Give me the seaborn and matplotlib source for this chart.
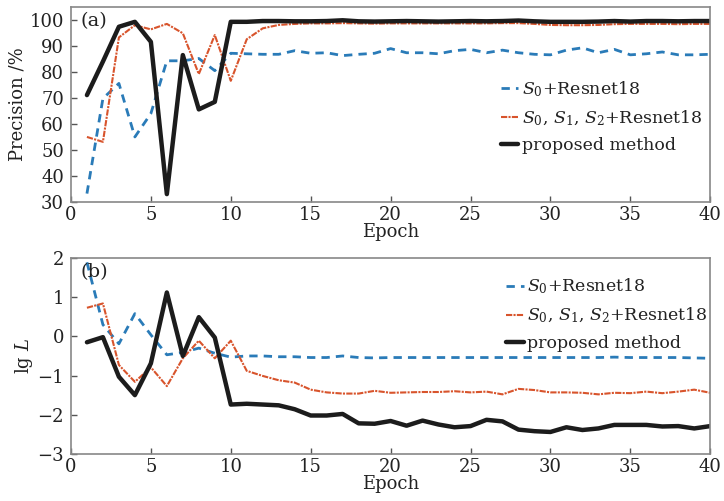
import numpy as np
import pandas as pd
import matplotlib
matplotlib.use("Agg")
import matplotlib.pyplot as plt
import seaborn as sns

epochs = list(range(1, 41))

prec_s0 = [33.2, 69.8, 75.6, 55.0, 64.0, 84.3, 84.3, 85.2, 80.5, 87.2,
           87.0, 86.8, 86.8, 88.2, 87.2, 87.4, 86.3, 86.8, 87.2, 89.0,
           87.4, 87.4, 87.0, 88.2, 88.7, 87.4, 88.4, 87.4, 86.8, 86.6,
           88.4, 89.3, 87.4, 88.7, 86.6, 87.0, 87.7, 86.6, 86.6, 86.8]
prec_s012 = [55.0, 53.1, 93.3, 98.0, 96.4, 98.5, 94.9, 79.2, 94.2, 76.6,
             92.6, 96.8, 98.1, 98.5, 98.7, 98.7, 98.8, 98.7, 98.6, 98.7,
             98.7, 98.7, 98.7, 98.7, 98.7, 98.7, 98.8, 98.8, 98.5, 98.1,
             98.0, 98.0, 98.1, 98.4, 98.5, 98.5, 98.5, 98.4, 98.5, 98.5]
prec_prop = [71.1, 84.0, 97.4, 99.3, 91.6, 33.0, 86.5, 65.6, 68.5, 99.3,
             99.3, 99.6, 99.6, 99.5, 99.5, 99.6, 99.9, 99.5, 99.4, 99.5,
             99.6, 99.5, 99.4, 99.5, 99.6, 99.5, 99.6, 99.8, 99.5, 99.3,
             99.3, 99.3, 99.4, 99.6, 99.4, 99.6, 99.6, 99.5, 99.6, 99.6]

loss_s0 = [1.89, 0.30, -0.19, 0.58, 0.04, -0.47, -0.41, -0.30, -0.43, -0.53,
           -0.50, -0.50, -0.52, -0.52, -0.54, -0.54, -0.50, -0.54, -0.55, -0.54,
           -0.54, -0.54, -0.54, -0.54, -0.54, -0.54, -0.54, -0.54, -0.54, -0.54,
           -0.54, -0.54, -0.54, -0.53, -0.54, -0.54, -0.54, -0.54, -0.55, -0.56]
loss_s012 = [0.73, 0.84, -0.73, -1.16, -0.79, -1.27, -0.56, -0.11, -0.56, -0.11,
             -0.88, -1.01, -1.12, -1.18, -1.36, -1.43, -1.46, -1.46, -1.39, -1.44,
             -1.43, -1.42, -1.42, -1.40, -1.43, -1.41, -1.48, -1.34, -1.37, -1.43,
             -1.43, -1.44, -1.48, -1.44, -1.45, -1.41, -1.45, -1.41, -1.36, -1.44]
loss_prop = [-0.15, -0.02, -1.03, -1.50, -0.69, 1.12, -0.50, 0.49, -0.03, -1.74,
             -1.72, -1.74, -1.76, -1.86, -2.02, -2.02, -1.98, -2.22, -2.23, -2.16,
             -2.28, -2.15, -2.25, -2.32, -2.29, -2.13, -2.17, -2.38, -2.42, -2.44,
             -2.32, -2.39, -2.35, -2.26, -2.26, -2.26, -2.30, -2.29, -2.35, -2.29]

labels = [r"$S_0$+Resnet18", r"$S_0$, $S_1$, $S_2$+Resnet18", "proposed method"]
colors = ["#2a7bb8", "#d8542c", "#1c1c1c"]
styles = [(0, (3.0, 2.2)), (0, (3, 0.6, 1, 0.6)), "-"]
widths = [2.0, 1.5, 3.2]

sns.set_theme(style="white")
plt.rcParams["font.family"] = ["DejaVu Serif"]
plt.rcParams["mathtext.fontset"] = "dejavuserif"

fig = plt.figure(figsize=(7.24, 5.01), dpi=100)
ax1 = fig.add_axes([0.098, 0.597, 0.883, 0.389])
ax2 = fig.add_axes([0.098, 0.094, 0.883, 0.391])

def draw(ax, series, ylim, yticks, ylabel, tag, legend_loc):
    for vals, lab, c, ls, lw in zip(series, labels, colors, styles, widths):
        sns.lineplot(x=epochs, y=vals, ax=ax, color=c, linestyle=ls, linewidth=lw, label=lab)
    ax.set_xlim(0, 40)
    ax.set_ylim(*ylim)
    ax.set_xticks(range(0, 41, 5))
    ax.set_yticks(yticks)
    ax.tick_params(direction="in", length=4, width=1, colors="#555555", labelsize=13,
                   labelcolor="#222222", bottom=True, left=True)
    ax.tick_params(axis="y", pad=5)
    ax.tick_params(axis="x", pad=3)
    for s in ax.spines.values():
        s.set_color("#888888")
        s.set_linewidth(1.2)
    ax.set_xlabel("Epoch", fontsize=13, labelpad=-1, color="#222222")
    ax.set_ylabel(ylabel, fontsize=13, labelpad=2, color="#222222")
    ax.text(0.015, 0.93, tag, transform=ax.transAxes, fontsize=14, va="center", ha="left", color="#222222")
    leg = ax.legend(loc="upper left", bbox_to_anchor=legend_loc, frameon=False, fontsize=12.5,
                    handlelength=1.0, handletextpad=0.2, labelspacing=0.55, borderaxespad=0)
    for t in leg.get_texts():
        t.set_color("#222222")

draw(ax1, [prec_s0, prec_s012, prec_prop], (30, 105), range(30, 101, 10), "Precision /%", "(a)", (0.662, 0.665))
draw(ax2, [loss_s0, loss_s012, loss_prop], (-3, 2), range(-3, 3), r"lg $L$", "(b)", (0.67, 0.94))

fig.savefig("out.png", dpi=100)
